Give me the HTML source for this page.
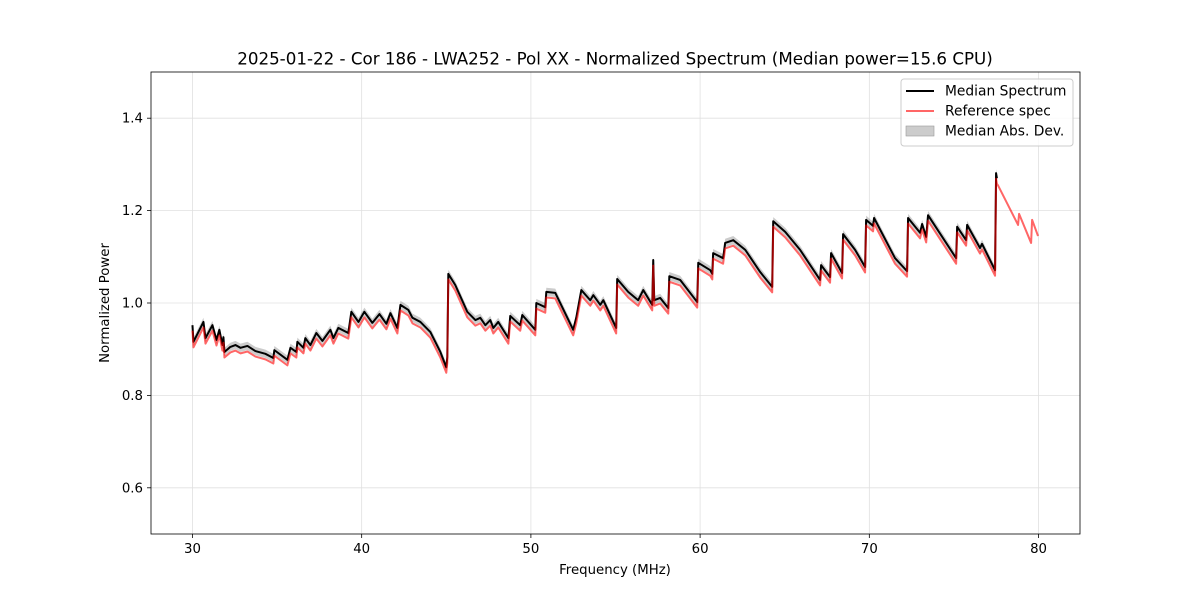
<!DOCTYPE html>
<html><head><meta charset="utf-8"><style>
html,body{margin:0;padding:0;background:#fff;}
svg{display:block;font-family:"DejaVu Sans","Liberation Sans",sans-serif;}
</style></head><body>
<svg id="chart" width="1200" height="600" viewBox="0 0 1200 600"></svg>
<script>
const freqs=[30.00,30.06,30.65,30.77,31.18,31.42,31.59,31.77,31.83,31.89,32.24,32.54,32.84,33.25,33.72,34.31,34.78,34.84,35.61,35.79,36.14,36.20,36.56,36.67,36.97,37.32,37.68,38.15,38.33,38.62,39.21,39.39,39.81,40.16,40.63,41.05,41.46,41.70,42.11,42.29,42.76,43.00,43.47,44.06,44.65,45.00,45.06,45.12,45.53,46.24,46.72,47.01,47.31,47.60,47.78,48.07,48.67,48.78,49.37,49.49,50.26,50.32,50.85,50.91,51.44,52.50,52.68,52.98,53.51,53.69,54.10,54.28,55.04,55.10,55.75,56.34,56.64,57.17,57.23,57.29,57.64,58.12,58.18,58.82,59.83,59.89,60.60,60.72,60.77,61.36,61.48,61.96,62.67,63.55,64.26,64.32,65.03,65.91,67.09,67.15,67.68,67.74,68.39,68.45,69.16,69.75,69.81,70.22,70.28,71.52,72.23,72.29,73.00,73.12,73.36,73.47,75.13,75.19,75.72,75.78,76.54,76.66,77.43,77.49,77.54];
const medianValues=[0.952,0.916,0.959,0.924,0.952,0.920,0.942,0.909,0.926,0.894,0.905,0.909,0.903,0.907,0.896,0.890,0.881,0.898,0.877,0.903,0.894,0.916,0.903,0.924,0.909,0.935,0.918,0.942,0.924,0.946,0.935,0.981,0.959,0.981,0.957,0.976,0.955,0.978,0.946,0.996,0.985,0.968,0.959,0.937,0.894,0.861,0.883,1.063,1.039,0.981,0.963,0.968,0.952,0.963,0.946,0.959,0.924,0.972,0.952,0.974,0.942,1.000,0.991,1.024,1.022,0.942,0.968,1.028,1.006,1.017,0.996,1.006,0.946,1.052,1.024,1.006,1.028,0.996,1.093,1.006,1.011,0.989,1.058,1.050,1.002,1.087,1.071,1.063,1.108,1.097,1.130,1.136,1.115,1.067,1.035,1.177,1.154,1.115,1.050,1.082,1.056,1.108,1.065,1.149,1.115,1.078,1.180,1.167,1.184,1.097,1.069,1.184,1.152,1.171,1.143,1.190,1.097,1.165,1.136,1.169,1.119,1.128,1.071,1.281,1.270];
const refValues=[0.940,0.904,0.947,0.912,0.940,0.908,0.930,0.897,0.914,0.882,0.893,0.897,0.891,0.895,0.884,0.878,0.869,0.886,0.865,0.891,0.882,0.904,0.891,0.912,0.897,0.923,0.906,0.930,0.912,0.934,0.923,0.969,0.947,0.969,0.945,0.964,0.943,0.966,0.934,0.984,0.973,0.956,0.947,0.925,0.882,0.849,0.871,1.051,1.027,0.969,0.951,0.956,0.940,0.951,0.934,0.947,0.912,0.960,0.940,0.962,0.930,0.988,0.979,1.012,1.010,0.930,0.956,1.016,0.994,1.005,0.984,0.994,0.934,1.040,1.012,0.994,1.016,0.984,1.081,0.994,0.999,0.977,1.046,1.038,0.990,1.075,1.059,1.051,1.096,1.085,1.118,1.124,1.103,1.055,1.023,1.165,1.142,1.103,1.038,1.070,1.044,1.096,1.053,1.137,1.103,1.066,1.168,1.155,1.172,1.085,1.057,1.172,1.140,1.159,1.131,1.178,1.085,1.153,1.124,1.157,1.107,1.116,1.059,1.269,1.258];
const refTailFreq=[77.60,78.79,78.85,79.56,79.62,79.97];
const refTailValues=[1.255,1.169,1.193,1.130,1.180,1.145];
const madValues=[0.009];
const xTicks=[30,40,50,60,70,80];
const yTicks=[0.6,0.8,1.0,1.2,1.4];
const xTickLabels=["30","40","50","60","70","80"];
const yTickLabels=["0.6","0.8","1.0","1.2","1.4"];

const L=151,R=1080,T=72,B=534;
const xMin=27.55,xMax=82.45,yMin=0.5,yMax=1.5;
function X(f){return L+(f-xMin)/(xMax-xMin)*(R-L);}
function Y(v){return B-(v-yMin)/(yMax-yMin)*(B-T);}
const svg=document.getElementById('chart');
const NS='http://www.w3.org/2000/svg';
function mk(tag,attrs,parent){const e=document.createElementNS(NS,tag);for(const k in attrs)e.setAttribute(k,attrs[k]);(parent||svg).appendChild(e);return e;}

xTicks.forEach((t,i)=>{
  const g=mk('line',{x1:X(t),x2:X(t),y1:T,y2:B,stroke:'#e0e0e0','stroke-width':0.8});
  
  
  const tk=mk('line',{x1:X(t),x2:X(t),y1:B,y2:B+4,stroke:'#000','stroke-width':0.8});
  
  
  const tx=mk('text',{x:X(t),y:B+19,'text-anchor':'middle','font-size':13.3});
  tx.textContent=xTickLabels[i];
  
  
});
yTicks.forEach((t,i)=>{
  const g=mk('line',{x1:L,x2:R,y1:Y(t),y2:Y(t),stroke:'#e0e0e0','stroke-width':0.8});
  
  
  const tk=mk('line',{x1:L-4,x2:L,y1:Y(t),y2:Y(t),stroke:'#000','stroke-width':0.8});
  
  
  const tx=mk('text',{x:L-8,y:Y(t)+4.5,'text-anchor':'end','font-size':13.3});
  tx.textContent=yTickLabels[i];
  
  
});

let up=[],dn=[];
freqs.forEach((f,i)=>{up.push(X(f)+','+Y(medianValues[i]+madValues[0]));dn.unshift(X(f)+','+Y(medianValues[i]-madValues[0]));});
const band=mk('polygon',{points:up.concat(dn).join(' '),fill:'#000','fill-opacity':0.2,stroke:'none'});



const med=mk('polyline',{points:freqs.map((f,i)=>X(f)+','+Y(medianValues[i])).join(' '),fill:'none',stroke:'#000','stroke-width':2,'stroke-linejoin':'round'});



const rf=freqs.concat(refTailFreq), rv=refValues.concat(refTailValues);
const ref=mk('polyline',{points:rf.map((f,i)=>X(f)+','+Y(rv[i])).join(' '),fill:'none',stroke:'red','stroke-opacity':0.6,'stroke-width':2,'stroke-linejoin':'round'});



const fr=mk('rect',{x:L,y:T,width:R-L,height:B-T,fill:'none',stroke:'#000','stroke-width':0.8});


</script>
<svg style="position:absolute;left:0;top:0" width="1200" height="600">
  <text x="615" y="64.5" text-anchor="middle" font-size="16.7" font-family="DejaVu Sans, sans-serif">2025-01-22 - Cor 186 - LWA252 - Pol XX - Normalized Spectrum (Median power=15.6 CPU)</text>
  <text x="615" y="574" text-anchor="middle" font-size="13.3" font-family="DejaVu Sans, sans-serif">Frequency (MHz)</text>
  <text x="0" y="0" transform="translate(109,303) rotate(-90)" text-anchor="middle" font-size="13.3" font-family="DejaVu Sans, sans-serif">Normalized Power</text>
  <g font-family="DejaVu Sans, sans-serif" font-size="13.8">
    <rect x="901" y="79" width="172" height="67" rx="3" fill="#fff" fill-opacity="0.8" stroke="#ccc"/>
    <line x1="906" y1="91" x2="934" y2="91" stroke="#000" stroke-width="2"/>
    <text x="945" y="95.5">Median Spectrum</text>
    <line x1="906" y1="111" x2="934" y2="111" stroke="red" stroke-opacity="0.6" stroke-width="2"/>
    <text x="945" y="115.5">Reference spec</text>
    <rect x="906" y="126" width="28" height="10" fill="#000" fill-opacity="0.2" stroke="#999" stroke-width="0.6"/>
    <text x="945" y="135.5">Median Abs. Dev.</text>
  </g>
</svg>
</body></html>
